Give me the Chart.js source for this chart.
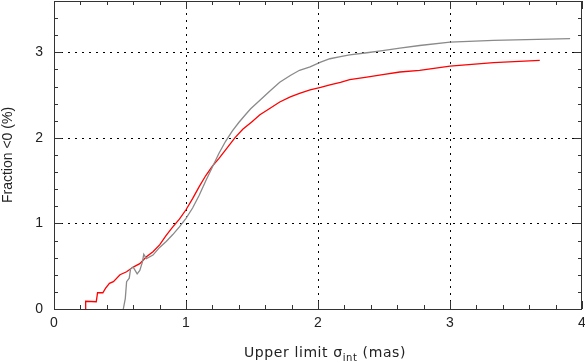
<!DOCTYPE html>
<html>
<head>
<meta charset="utf-8">
<script src="https://cdn.jsdelivr.net/npm/chart.js@4/dist/chart.umd.min.js"></script>
<style>
html,body{margin:0;padding:0;background:#fff;}
#wrap{width:585px;height:362px;position:relative;}
</style>
</head>
<body>
<div id="wrap"><canvas id="c" width="585" height="362"></canvas></div>
<script>
// ---- data ----
const redX  = [0.24,0.24,0.32,0.33,0.37,0.39,0.42,0.45,0.50,0.55,0.60,0.65,0.70,0.75,0.80,0.85,0.90,0.95,1.00,1.05,1.10,1.15,1.20,1.25,1.30,1.37,1.43,1.50,1.56,1.64,1.71,1.79,1.86,1.94,2.02,2.09,2.17,2.24,2.37,2.49,2.62,2.77,3.00,3.33,3.68];
const redY  = [0.00,0.09,0.085,0.19,0.19,0.24,0.30,0.32,0.40,0.435,0.49,0.53,0.61,0.67,0.75,0.86,0.96,1.05,1.16,1.29,1.43,1.56,1.67,1.76,1.86,2.00,2.10,2.19,2.27,2.35,2.42,2.48,2.52,2.56,2.59,2.62,2.65,2.68,2.71,2.74,2.77,2.79,2.84,2.88,2.905];
const grayX = [0.525,0.54,0.55,0.57,0.58,0.60,0.63,0.65,0.67,0.68,0.70,0.75,0.80,0.85,0.90,0.95,1.00,1.05,1.10,1.15,1.20,1.25,1.30,1.35,1.40,1.45,1.49,1.56,1.64,1.71,1.79,1.86,1.94,2.02,2.09,2.17,2.24,2.37,2.49,2.62,2.77,3.00,3.33,3.91];
const grayY = [0.00,0.12,0.32,0.36,0.47,0.49,0.41,0.45,0.55,0.64,0.59,0.63,0.72,0.79,0.87,0.96,1.06,1.18,1.33,1.50,1.66,1.82,1.96,2.08,2.18,2.27,2.34,2.44,2.555,2.65,2.73,2.79,2.83,2.885,2.925,2.95,2.97,2.995,3.02,3.05,3.08,3.12,3.14,3.16];
const xTicks = [0,1,2,3,4];
const yTicks = [0,1,2,3];
const xMin = 0, xMax = 4, yMin = 0, yMax = 3.6;
const minorStep = 0.2;

const toPts = (xs, ys) => xs.map((x, i) => ({x: x, y: ys[i]}));

const FONT = "'Liberation Sans', 'DejaVu Sans', sans-serif";
const TFONT = "'DejaVu Sans', 'Liberation Sans', sans-serif";
const TXT = '#222';

const framePlugin = {
  id: 'frame',
  beforeDatasetsDraw(chart) {
    const {ctx, chartArea: a, scales: {x, y}} = chart;
    ctx.save();
    ctx.strokeStyle = '#000';
    ctx.lineWidth = 1;
    ctx.setLineDash([2, 5]);
    xTicks.forEach(v => {
      if (v <= xMin || v >= xMax) return;
      const px = Math.round(x.getPixelForValue(v)) + 0.5;
      ctx.beginPath(); ctx.moveTo(px, a.bottom); ctx.lineTo(px, a.top); ctx.stroke();
    });
    yTicks.forEach(v => {
      if (v <= yMin || v >= yMax) return;
      const py = Math.round(y.getPixelForValue(v)) + 0.5;
      ctx.beginPath(); ctx.moveTo(a.left, py); ctx.lineTo(a.right, py); ctx.stroke();
    });
    ctx.setLineDash([]);
    ctx.strokeStyle = '#333';
    const nX = Math.round((xMax - xMin) / minorStep);
    for (let i = 0; i <= nX; i++) {
      const v = xMin + i * minorStep;
      const major = Math.abs(v - Math.round(v)) < 1e-6;
      const len = major ? 8 : 4;
      const px = Math.round(x.getPixelForValue(v)) + 0.5;
      ctx.beginPath();
      ctx.moveTo(px, a.bottom); ctx.lineTo(px, a.bottom - len);
      ctx.moveTo(px, a.top); ctx.lineTo(px, a.top + len);
      ctx.stroke();
    }
    const nY = Math.round((yMax - yMin) / minorStep);
    for (let i = 0; i <= nY; i++) {
      const v = yMin + i * minorStep;
      const major = Math.abs(v - Math.round(v)) < 1e-6;
      const len = major ? 8 : 4;
      const py = Math.round(y.getPixelForValue(v)) + 0.5;
      ctx.beginPath();
      ctx.moveTo(a.left, py); ctx.lineTo(a.left + len, py);
      ctx.moveTo(a.right, py); ctx.lineTo(a.right - len, py);
      ctx.stroke();
    }
    ctx.strokeStyle = '#333';
    ctx.strokeRect(Math.round(a.left) + 0.5, Math.round(a.top) + 0.5,
                   Math.round(a.right - a.left) - 1, Math.round(a.bottom - a.top));
    ctx.restore();
  },
  afterDraw(chart) {
    const {ctx, chartArea: a} = chart;
    ctx.save();
    ctx.fillStyle = TXT;
    ctx.textBaseline = 'alphabetic';
    try { ctx.letterSpacing = '0.6px'; } catch (e) {}
    const big = '14px ' + TFONT, small = '10px ' + TFONT;
    const p1 = 'Upper limit \u03c3', p2 = 'int', p3 = ' (mas)';
    ctx.font = big; const w1 = ctx.measureText(p1).width, w3 = ctx.measureText(p3).width;
    ctx.font = small; const w2 = ctx.measureText(p2).width;
    const total = w1 + w2 + w3;
    let xs = 325 - total / 2;
    const base = 357;
    ctx.font = big; ctx.fillText(p1, xs, base); xs += w1;
    ctx.font = small; ctx.fillText(p2, xs, base + 4); xs += w2;
    ctx.font = big; ctx.fillText(p3, xs, base);
    ctx.restore();
  }
};

new Chart(document.getElementById('c'), {
  type: 'line',
  data: {
    datasets: [
      {label: 'gray', data: toPts(grayX, grayY), borderColor: '#8a8a8a', borderWidth: 1.3, pointRadius: 0, fill: false, tension: 0},
      {label: 'red', data: toPts(redX, redY), borderColor: '#ff0000', borderWidth: 1.3, pointRadius: 0, fill: false, tension: 0}
    ]
  },
  options: {
    responsive: false,
    animation: false,
    layout: {padding: {top: 1, right: 3, left: 0, bottom: 0}},
    plugins: {legend: {display: false}, tooltip: {enabled: false}},
    scales: {
      x: {
        type: 'linear', min: xMin, max: xMax,
        grid: {display: false, drawTicks: false},
        border: {display: false},
        afterBuildTicks: s => { s.ticks = xTicks.map(v => ({value: v})); },
        afterFit: s => { s.height = 53; s.paddingLeft = 0; s.paddingRight = 0; s.paddingTop = 0; s.paddingBottom = 0; },
        ticks: {color: TXT, font: {family: FONT, size: 14}, padding: 6, maxRotation: 0, autoSkip: false}
      },
      y: {
        type: 'linear', min: yMin, max: yMax,
        grid: {display: false, drawTicks: false},
        border: {display: false},
        afterBuildTicks: s => { s.ticks = yTicks.map(v => ({value: v})); },
        afterFit: s => { s.width = 54; s.paddingLeft = 0; s.paddingRight = 0; s.paddingTop = 0; s.paddingBottom = 0; },
        ticks: {color: TXT, font: {family: FONT, size: 14}, padding: 11},
        title: {display: true, text: 'Fraction <0 (%)', color: TXT, font: {family: FONT, size: 14}, padding: 0}
      }
    }
  },
  plugins: [framePlugin]
});
</script>
</body>
</html>
